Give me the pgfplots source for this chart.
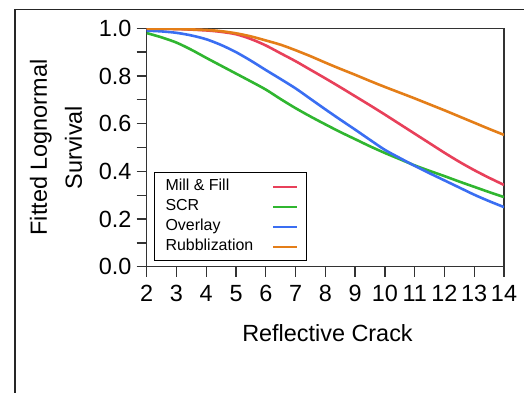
\documentclass[border=0pt]{standalone}
\usepackage{fontspec}
\setmainfont{Liberation Sans}
\usepackage{pgfplots}
\pgfplotsset{compat=1.18}
\definecolor{cRed}{RGB}{232,64,90}
\definecolor{cGreen}{RGB}{48,182,48}
\definecolor{cBlue}{RGB}{58,110,242}
\definecolor{cOrange}{RGB}{228,126,24}
\begin{document}
\begin{tikzpicture}[x=1bp,y=1bp]
\path[use as bounding box] (0,0) rectangle (524,392);
\draw[line width=1.6bp, black!85] (15,-20) -- (15,382.5) -- (560,382.5);
\begin{axis}[
  at={(146.7bp,125.3bp)}, anchor=south west,
  width=357.3bp, height=238.4bp, scale only axis,
  xmin=2, xmax=14, ymin=0, ymax=1,
  xtick={2,3,4,5,6,7,8,9,10,11,12,13,14},
  ytick={0,0.2,0.4,0.6,0.8,1.0},
  minor ytick={0.1,0.3,0.5,0.7,0.9},
  tick align=outside, tick pos=left,
  major tick length=10bp, minor tick length=10bp,
  axis line style={line width=1.3bp, black!80},
  every tick/.style={line width=1.3bp, black!80},
  every minor tick/.style={line width=1.3bp, black!80},
  /pgf/number format/assume math mode=true,
  ticklabel style={font=\fontsize{23.5}{23.5}\selectfont},
  xticklabel style={inner sep=1bp, yshift=-7bp},
  yticklabel style={inner sep=1bp, xshift=-4bp, /pgf/number format/.cd, fixed, fixed zerofill, precision=1},
  xlabel={Reflective Crack},
  xlabel style={at={(axis description cs:0.506,-0.3146)}, anchor=base, font=\fontsize{23.5}{23.5}\selectfont},
  ylabel={Fitted Lognormal\\Survival},
  ylabel style={at={(axis description cs:-0.254,0.5)}, anchor=center, align=center, font=\fontsize{23.5}{35}\selectfont},
  legend plot pos=right,
  legend cell align=left,
  legend image code/.code={\draw[#1, line width=2bp] (0bp,0bp) -- (24bp,0bp);},
  legend style={at={(axis description cs:0.0204,0.397)}, anchor=north west,
    draw=black, line width=1.2bp, font=\fontsize{16}{16}\selectfont,
    inner xsep=8bp, inner ysep=4bp, row sep=0bp, column sep=16bp,
    nodes={text height=11.5bp, text depth=3.5bp, inner ysep=2.5bp, inner xsep=3bp}},
]
\addplot[cRed, line width=2.6bp, smooth] coordinates {
(2,0.998) (3,0.997) (4,0.991) (4.5,0.985) (5,0.975) (5.5,0.955) (6,0.928) (6.5,0.895) (7,0.862) (7.5,0.826) (8,0.790) (8.5,0.753) (9,0.715) (9.5,0.677) (10,0.638) (10.5,0.598) (11,0.558) (11.5,0.518) (12,0.478) (12.5,0.440) (13,0.405) (13.5,0.373) (14,0.343)};
\addlegendentry{Mill \& Fill}
\addplot[cGreen, line width=2.6bp, smooth] coordinates {
(2,0.980) (2.5,0.962) (3,0.940) (3.5,0.910) (4,0.876) (4.5,0.843) (5,0.810) (5.5,0.777) (6,0.743) (6.5,0.703) (7,0.665) (7.5,0.630) (8,0.597) (8.5,0.565) (9,0.535) (9.5,0.505) (10,0.477) (10.5,0.451) (11,0.425) (11.5,0.402) (12,0.380) (12.5,0.357) (13,0.335) (13.5,0.313) (14,0.292)};
\addlegendentry{SCR}
\addplot[cBlue, line width=2.6bp, smooth] coordinates {
(2,0.990) (2.5,0.987) (3,0.981) (3.5,0.970) (4,0.954) (4.5,0.930) (5,0.900) (5.5,0.864) (6,0.825) (6.5,0.787) (7,0.748) (7.5,0.704) (8,0.660) (8.5,0.617) (9,0.575) (9.5,0.532) (10,0.490) (10.5,0.456) (11,0.423) (11.5,0.392) (12,0.362) (12.5,0.332) (13,0.302) (13.5,0.275) (14,0.250)};
\addlegendentry{Overlay}
\addplot[cOrange, line width=2.6bp, smooth] coordinates {
(2,0.998) (3,0.997) (4,0.993) (4.5,0.988) (5,0.979) (5.5,0.966) (6,0.949) (6.5,0.931) (7,0.908) (7.5,0.883) (8,0.856) (8.5,0.830) (9,0.805) (9.5,0.779) (10,0.754) (10.5,0.730) (11,0.706) (11.5,0.681) (12,0.656) (12.5,0.630) (13,0.604) (13.5,0.578) (14,0.553)};
\addlegendentry{Rubblization}
\end{axis}
\end{tikzpicture}
\end{document}
